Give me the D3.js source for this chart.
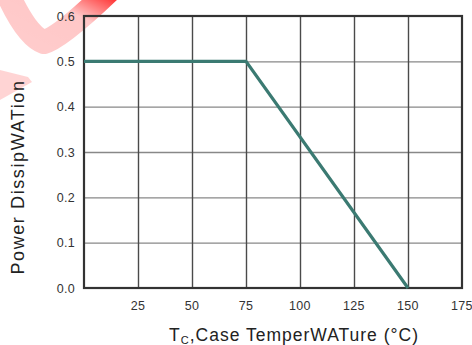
<!DOCTYPE html>
<html>
<head>
<meta charset="utf-8">
<script src="https://cdn.jsdelivr.net/npm/d3@7.9.0/dist/d3.min.js"></script>
<style>
  body { margin: 0; background: #fff; }
  svg { display: block; font-family: Arial, "Liberation Sans", sans-serif; }
</style>
</head>
<body>
<div id="chart"></div>
<script>
// derating curve
const caseTemp = [0, 75, 150];
const powerW = [0.5, 0.5, 0];
const xTicks = [25, 50, 75, 100, 125, 150, 175];
const yTicks = [0, 0.1, 0.2, 0.3, 0.4, 0.5, 0.6];

const width = 472, height = 345;
const margin = { top: 16, right: 10, bottom: 57, left: 84 };

const svg = d3.select('#chart').append('svg')
    .attr('width', width)
    .attr('height', height);

// watermark swoosh
const grad = svg.append('defs').append('linearGradient')
    .attr('id', 'wm')
    .attr('x1', 0).attr('y1', 1).attr('x2', 1).attr('y2', 0);
grad.append('stop').attr('offset', '0%').attr('stop-color', '#ff0000').attr('stop-opacity', 0.2);
grad.append('stop').attr('offset', '60%').attr('stop-color', '#ff0000').attr('stop-opacity', 0.22);
grad.append('stop').attr('offset', '100%').attr('stop-color', '#ff0000').attr('stop-opacity', 0.9);

svg.append('path')
    .attr('d', 'M6,-10 Q26,36 44,42 Q60,38 110,-10')
    .attr('fill', 'none')
    .attr('stroke', 'url(#wm)')
    .attr('stroke-width', 24)
    .attr('stroke-linejoin', 'round');
svg.append('path')
    .attr('d', 'M0,70 L28,77 L32,82 L0,100 Z')
    .attr('fill', '#ff0000')
    .attr('fill-opacity', 0.17);

const x = d3.scaleLinear().domain([0, 175]).range([margin.left, width - margin.right]);
const y = d3.scaleLinear().domain([0, 0.6]).range([height - margin.bottom, margin.top]);

// Gridlines
svg.append('g')
    .attr('transform', `translate(${margin.left}, 0)`)
    .call(d3.axisRight(y).tickValues(yTicks.slice(1, -1)).tickFormat('').tickSize(x(175) - x(0)))
    .call(g => g.select('.domain').remove())
    .call(g => g.selectAll('line').attr('stroke', '#888').attr('stroke-width', 1.4));

svg.append('g')
    .attr('transform', `translate(0, ${margin.top})`)
    .call(d3.axisBottom(x).tickValues(xTicks.slice(0, -1)).tickFormat('').tickSize(y(0) - y(0.6)))
    .call(g => g.select('.domain').remove())
    .call(g => g.selectAll('line').attr('stroke', '#4a4a4a').attr('stroke-width', 1.4));

// Frame
svg.append('rect')
    .attr('x', x(0))
    .attr('y', y(0.6))
    .attr('width', x(175) - x(0))
    .attr('height', y(0) - y(0.6))
    .attr('fill', 'none')
    .attr('stroke', '#333')
    .attr('stroke-width', 2.2);

// Tick labels
svg.append('g')
    .selectAll('text')
    .data(xTicks)
    .join('text')
    .attr('x', d => x(d))
    .attr('y', y(0) + 22)
    .attr('text-anchor', 'middle')
    .attr('font-size', 12.5)
    .attr('letter-spacing', 0.3)
    .attr('fill', '#333')
    .text(d => d);

svg.append('g')
    .selectAll('text')
    .data(yTicks)
    .join('text')
    .attr('x', x(0) - 9)
    .attr('y', d => y(d) + 4.5)
    .attr('text-anchor', 'end')
    .attr('font-size', 12.5)
    .attr('letter-spacing', 0.3)
    .attr('fill', '#333')
    .text(d => d.toFixed(1));

// Curve
const line = d3.line()
    .x((d, i) => x(caseTemp[i]))
    .y(d => y(d));

svg.append('path')
    .datum(powerW)
    .attr('d', line)
    .attr('fill', 'none')
    .attr('stroke', '#3b7a72')
    .attr('stroke-width', 3.2);

// Axis titles
const xTitle = svg.append('text')
    .attr('x', 294)
    .attr('y', 341)
    .attr('text-anchor', 'middle')
    .attr('font-size', 17.5)
    .attr('letter-spacing', 1)
    .attr('fill', '#222');
xTitle.append('tspan').text('T');
xTitle.append('tspan').attr('font-size', 11).attr('dy', 3).text('C');
xTitle.append('tspan').attr('dy', -3).text(',Case TemperWATure (°C)');

svg.append('text')
    .attr('transform', 'translate(24, 177) rotate(-90)')
    .attr('text-anchor', 'middle')
    .attr('font-size', 18)
    .attr('letter-spacing', 1.6)
    .attr('fill', '#222')
    .text('Power DissipWATion');
</script>
</body>
</html>
